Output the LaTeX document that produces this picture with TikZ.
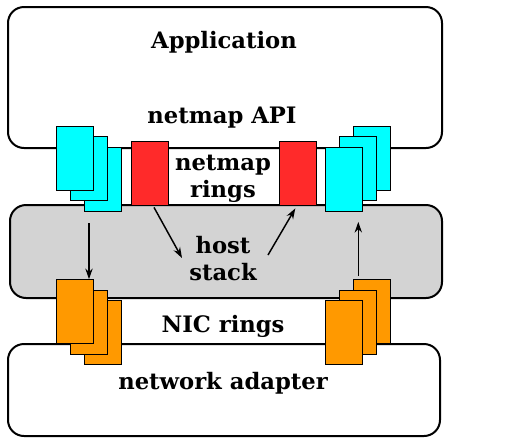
\documentclass[tikz,border=0pt]{standalone}
\usepackage{fontspec}
\setmainfont{DejaVu Serif}
\usetikzlibrary{arrows.meta,calc}

\definecolor{ringcyan}{RGB}{0,255,255}
\definecolor{ringred}{RGB}{255,42,42}
\definecolor{ringorange}{RGB}{255,153,0}
\definecolor{hostgray}{RGB}{211,211,211}

\tikzset{every picture/.style={line width=0.75pt}}
\tikzset{
  layerbox/.style={draw, line width=1.5pt, rounded corners=12pt, inner sep=0pt},
  ringbox/.style={draw, line width=0.75pt, inner sep=0pt, minimum width=27.5pt, minimum height=48pt},
  cyanring/.style={ringbox, fill=ringcyan},
  redring/.style={ringbox, fill=ringred},
  nicring/.style={ringbox, fill=ringorange},
  label/.style={font=\bfseries\fontsize{17}{20}\selectfont, align=center},
  arr/.style={-{Stealth[length=8pt,width=5.5pt]}, line width=1.1pt},
}

\begin{document}
\begin{tikzpicture}[x=0.75pt,y=0.75pt,yscale=-1,xscale=1]
\useasboundingbox (0,0) rectangle (511,440);

%Shape: Rounded Rect [application]
\node [layerbox, fill=white, minimum width=325.5pt, minimum height=105.75pt] (app) at (225,77.5) {};
%Shape: Rounded Rect [host stack]
\node [layerbox, fill=hostgray, minimum width=324pt, minimum height=69.75pt] (host) at (226,251.5) {};
%Shape: Rounded Rect [network adapter]
\node [layerbox, fill=white, minimum width=324pt, minimum height=69pt] (nic) at (224,390) {};

%Shape: Rectangle [netmap rings, left]
\node [cyanring] (cl3) at (103.3,179.2) {};
\node [cyanring] (cl2) at (89,168.9) {};
\node [cyanring] (cl1) at (75,158.7) {};
%Shape: Rectangle [netmap rings, right]
\node [cyanring] (cr3) at (372.3,158.7) {};
\node [cyanring] (cr2) at (358.3,168.9) {};
\node [cyanring] (cr1) at (344.3,179.2) {};
%Shape: Rectangle [host rings]
\node [redring] (rl) at (150,173.9) {};
\node [redring] (rr) at (298.3,173.9) {};

%Shape: Rectangle [NIC rings, left]
\node [nicring] (ol3) at (103.3,332.5) {};
\node [nicring] (ol2) at (89,322.2) {};
\node [nicring] (ol1) at (75,311.7) {};
%Shape: Rectangle [NIC rings, right]
\node [nicring] (or3) at (372.3,311.7) {};
\node [nicring] (or2) at (358.3,322.2) {};
\node [nicring] (or1) at (344.3,332.5) {};

% Text Node
\node [label] (tapp) at (224,42) {Application};
% Text Node
\node [label] (tapi) at (222,118) {netmap API};
% Text Node
\node [label] (trings) at (223,178.5) {netmap\\rings};
% Text Node
\node [label] (thost) at (223,258.5) {host\\stack};
% Text Node
\node [label] (tnicr) at (223,326) {NIC rings};
% Text Node
\node [label] (tnic) at (223,383) {network adapter};

%Straight Lines [arrows]
\coordinate (hs1) at (182,258);
\coordinate (hs2) at (268,255);
\draw [arr] ($(cl2.south)+(0,22)$) -- (cl2.south |- ol1.north);
\draw [arr] ($(or2.north |- or3.north)+(0,-3)$) -- ($(cr2.south)+(0,20.5)$);
\draw [arr] ($(rl.south)+(4,1)$) -- (hs1);
\draw [arr] (hs2) -- ($(rr.south)+(-3,2)$);

\end{tikzpicture}
\end{document}
